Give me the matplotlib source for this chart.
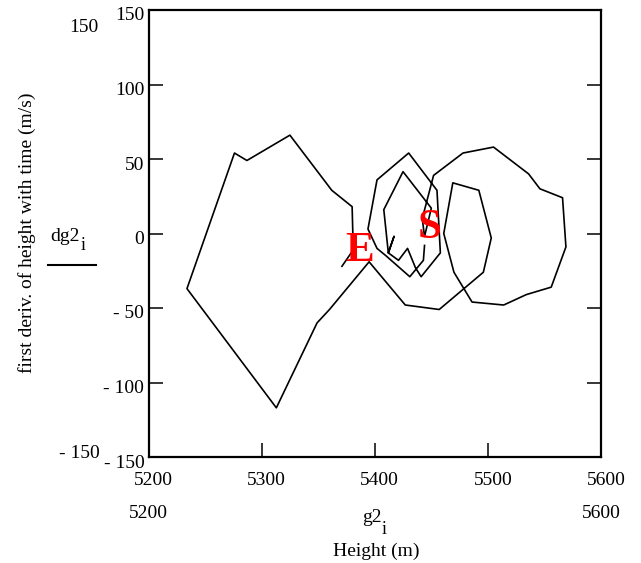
import matplotlib
matplotlib.use("Agg")
import matplotlib.pyplot as plt
from matplotlib.lines import Line2D
from matplotlib.transforms import ScaledTranslation

# phase trace: height g2 (m) vs first derivative dg2 (m/s)
height = [5444, 5443, 5431, 5410, 5402, 5394, 5402, 5430, 5455, 5458, 5441, 5436,
          5429, 5421, 5412, 5417, 5412, 5408, 5425, 5450, 5444, 5442, 5452, 5478,
          5505, 5536, 5546, 5566, 5569, 5556, 5534, 5514, 5486, 5470, 5461, 5469,
          5492, 5503, 5496, 5457, 5427, 5395, 5360, 5349, 5313, 5234, 5276, 5287,
          5325, 5362, 5380, 5381, 5371]
deriv = [-8, -18, -29, -15, -10, 3, 36, 54, 29, -13, -29, -23,
         -10, -18, -13, -2, -13, 16, 41.5, 17, -2, 10, 39, 54,
         58, 40, 30, 24, -9, -36, -41, -48, -46, -26, 0, 34,
         29, -3, -26, -51, -48, -19, -51, -60, -117, -37, 54, 49,
         66, 29, 18, -11, -22]

x_ticks = [5200, 5300, 5400, 5500, 5600]
x_tick_labels = ['5200', '5300', '5400', '5500', '5600']
y_ticks = [-150, -100, -50, 0, 50, 100, 150]
y_tick_labels = ['- 150', '- 100', '- 50', '0', '50', '100', '150']

start_label = (5449, 4)
end_label = (5387, -12)

W, H = 641, 563
plt.rcParams['font.family'] = ['Liberation Serif', 'DejaVu Serif']

fig = plt.figure(figsize=(W / 100, H / 100), dpi=100)
ax = fig.add_axes([148.5 / W, 1 - 457 / H, (601 - 148.5) / W, (457 - 10) / H])


def fx(x):
    return x / W


def fy(y):
    return 1 - y / H


ax.plot(height, deriv, color='black', lw=1.2)

ax.text(*start_label, 'S', color='red', fontsize=31, fontweight='bold', ha='center', va='center')
ax.text(*end_label, 'E', color='red', fontsize=31, fontweight='bold', ha='center', va='center')

ax.set_xlim(5200, 5600)
ax.set_ylim(-150, 150)
ax.set_xticks(x_ticks)
ax.set_xticklabels(x_tick_labels)
ax.set_yticks(y_ticks)
ax.set_yticklabels(y_tick_labels)
ax.tick_params(direction='in', length=10, width=1.1, labelsize=14)
ax.tick_params(axis='y', right=True, pad=3)
ax.tick_params(axis='x', pad=11)
for s in ax.spines.values():
    s.set_linewidth(1.6)

for lab in ax.get_yticklabels():
    lab.set_transform(lab.get_transform() + ScaledTranslation(0, -0.04, fig.dpi_scale_trans))
for lab in ax.get_xticklabels():
    lab.set_transform(lab.get_transform() + ScaledTranslation(0.05, 0, fig.dpi_scale_trans))

# Mathcad-style range labels and axis names
fig.text(fx(84), fy(27), '150', fontsize=14, ha='center', va='center')
fig.text(fx(79), fy(453), '- 150', fontsize=14, ha='center', va='center')
fig.text(fx(27), fy(233), 'first deriv. of height with time (m/s)', fontsize=14,
         rotation=90, ha='center', va='center')
fig.text(fx(65), fy(236), 'dg2', fontsize=14, ha='center', va='center')
fig.text(fx(83), fy(245), 'i', fontsize=13, ha='center', va='center')
fig.add_artist(Line2D([fx(48), fx(96)], [fy(265), fy(265)], color='black', lw=1.5))

fig.text(fx(148), fy(513), '5200', fontsize=14, ha='center', va='center')
fig.text(fx(601), fy(513), '5600', fontsize=14, ha='center', va='center')
fig.text(fx(372), fy(517), 'g2', fontsize=14, ha='center', va='center')
fig.text(fx(384), fy(529), 'i', fontsize=13, ha='center', va='center')
fig.text(fx(376), fy(551), 'Height (m)', fontsize=14, ha='center', va='center')

fig.savefig('out.png', dpi=100)
